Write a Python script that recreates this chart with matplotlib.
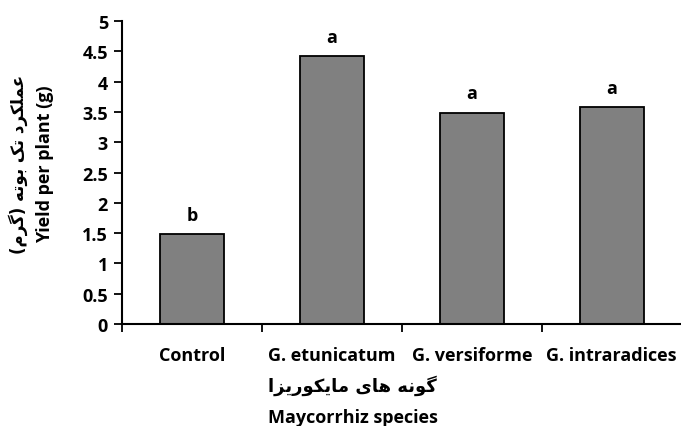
import matplotlib.pyplot as plt
import numpy as np

# data
species = ["Control", "G. etunicatum", "G. versiforme", "G. intraradices"]
yield_g = [1.48, 4.42, 3.49, 3.58]
letters = ["b", "a", "a", "a"]

# Persian labels, pre-shaped (presentation forms, visual order)
fa_ylabel = ("(\uFEE1\uFEAE\uFB94)" + " " + "\uFEEA\uFE97\uFEEE\uFE91" + " "
             + "\uFB8F\uFE97" + " " + "\uFEA9\uFEAE\uFB91\uFEE0\uFEE4\uFECB")
fa_xlabel = ("\uFE8D\uFEB0\uFBFE\uFEAD\uFEEE\uFB91\uFBFE\uFE8E\uFEE3" + " "
             + "\uFBFC\uFE8E\uFEEB" + " " + "\uFEEA\uFEE7\uFEEE\uFB94")

plt.rcParams["font.family"] = ["Open Sans", "DejaVu Sans"]
plt.rcParams["font.weight"] = "bold"

fs = 13

fig = plt.figure(figsize=(6.81, 4.27), dpi=100)
ax = fig.add_axes([0.179, 0.239, 0.822, 0.709])

x = np.arange(len(species))
ax.bar(x, yield_g, width=0.46, color="#808080", edgecolor="black", linewidth=1.3)
for xi, v, l in zip(x, yield_g, letters):
    ax.text(xi, v + 0.17, l, ha="center", va="bottom", fontsize=fs, fontweight="bold")

ax.set_ylim(0, 5)
ax.set_xlim(-0.5, len(species) - 0.5)
yt = np.arange(0, 5.01, 0.5)
ax.set_yticks(yt)
ax.set_yticklabels([f"{t:g}" for t in yt], fontsize=fs, fontweight="bold")

ax.set_xticks(x)
ax.set_xticklabels(species, fontsize=fs, fontweight="bold")
ax.set_xticks(np.arange(-0.5, len(species)), minor=True)
ax.tick_params(axis="x", which="major", length=0, pad=16)
ax.tick_params(axis="x", which="minor", length=6, width=1.3, direction="out")
ax.tick_params(axis="y", length=6, width=1.3, direction="out", pad=4)

for s in ["top", "right"]:
    ax.spines[s].set_visible(False)
for s in ["left", "bottom"]:
    ax.spines[s].set_linewidth(1.5)

fig.text(0.518, 0.096, fa_xlabel, ha="center", va="center", fontsize=13,
         family=["DejaVu Sans"], fontweight="bold")
fig.text(0.518, 0.022, "Maycorrhiz species", ha="center", va="center", fontsize=fs, fontweight="bold")
fig.text(0.026, 0.616, fa_ylabel, ha="center", va="center", rotation=90, fontsize=12,
         family=["DejaVu Sans"], fontweight="bold")
fig.text(0.066, 0.616, "Yield per plant (g)", ha="center", va="center", rotation=90,
         fontsize=fs, fontweight="bold")

fig.savefig("out.png", dpi=100)
